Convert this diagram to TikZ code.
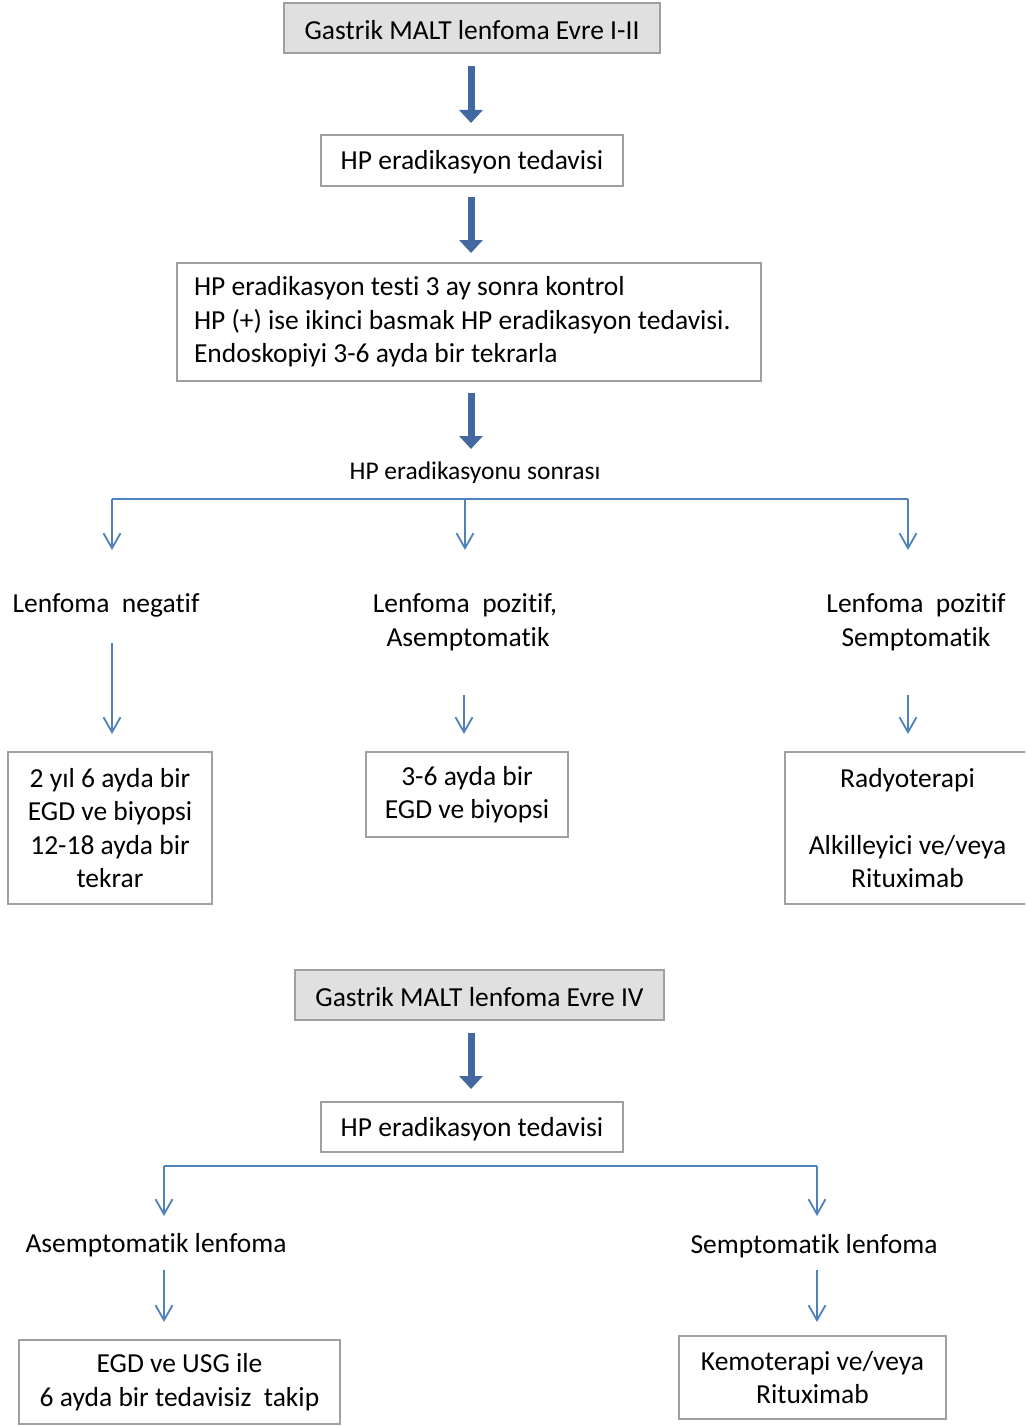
\documentclass[tikz,border=0pt]{standalone}
\usepackage{fontspec}
\setmainfont{Carlito}[Ligatures=NoCommon]
\usetikzlibrary{arrows.meta}
\definecolor{boxgray}{HTML}{A0A0A0}
\definecolor{fillgray}{HTML}{E0E0E0}
\definecolor{arrowblue}{HTML}{41689F}
\definecolor{lineblue}{HTML}{4F81BD}
\newcommand{\fsmain}{\fontsize{27.5}{33.5}\selectfont}
\newcommand{\fssmall}{\fontsize{25.5}{30}\selectfont}
\newcommand{\lowstrut}{\rule{0pt}{23pt}}
\begin{document}
\begin{tikzpicture}[x=1pt,y=-1pt,
  box/.style={draw=boxgray, line width=1.2pt, inner sep=0pt, font=\fsmain, align=center},
  graybox/.style={box, fill=fillgray},
  label/.style={inner sep=0pt, font=\fsmain, align=center},
  bigarrow/.style={draw=arrowblue, line width=7pt, -{Triangle[width=23pt,length=13pt]}},
  thinarrow/.style={draw=lineblue, line width=1.8pt, -{Straight Barb[width=17pt,length=15pt,line width=1.8pt]}},
  branch/.style={draw=lineblue, line width=1.8pt}]
\useasboundingbox (0,0) rectangle (1025,1426);
\clip (0,0) rectangle (1025,1426);

% upper part
\node[graybox, minimum width=376pt, minimum height=50pt] (b1) at (472,28) {\lowstrut Gastrik MALT lenfoma Evre I-II};
\node[box, minimum width=302pt, minimum height=51pt] (b2) at (472,160.5) {\lowstrut HP eradikasyon tedavisi};
\node[box, minimum width=584pt, minimum height=118pt, text width=550pt, align=flush left] (b3) at (469,322)
  {HP eradikasyon testi 3 ay sonra kontrol\\HP (+) ise ikinci basmak HP eradikasyon tedavisi.\\Endoskopiyi 3-6 ayda bir tekrarla};
\node[inner sep=0pt, font=\fssmall] (lbl) at (475,473) {HP eradikasyonu sonrası};

\coordinate (a1s) at (471,66);  \coordinate (a1e) at (471,123);
\coordinate (a2s) at (471,197); \coordinate (a2e) at (471,253);
\coordinate (a3s) at (471,393); \coordinate (a3e) at (471,449);
\draw[bigarrow] (a1s) -- (a1e);
\draw[bigarrow] (a2s) -- (a2e);
\draw[bigarrow] (a3s) -- (a3e);

\coordinate (h1) at (112,499); \coordinate (h2) at (465,499); \coordinate (h3) at (908,499);
\coordinate (h1e) at (112,550); \coordinate (h2e) at (465,550); \coordinate (h3e) at (908,550);
\draw[branch] (h1) -- (h3);
\draw[thinarrow] (h1) -- (h1e);
\draw[thinarrow] (h2) -- (h2e);
\draw[thinarrow] (h3) -- (h3e);

\node[label] (t1) at (106,605) {Lenfoma~~negatif};
\node[label] (t2) at (465,622) {Lenfoma~~pozitif,\\\hspace*{6pt}Asemptomatik};
\node[label] (t3) at (916,622) {Lenfoma~~pozitif\\Semptomatik};

\coordinate (k1s) at (112,643); \coordinate (k1e) at (112,734);
\coordinate (k2s) at (464,695); \coordinate (k2e) at (464,734);
\coordinate (k3s) at (908,695); \coordinate (k3e) at (908,734);
\draw[thinarrow] (k1s) -- (k1e);
\draw[thinarrow] (k2s) -- (k2e);
\draw[thinarrow] (k3s) -- (k3e);

\node[box, minimum width=204pt, minimum height=152pt] (l1) at (110,828)
  {2 yıl 6 ayda bir\\EGD ve biyopsi\\12-18 ayda bir\\tekrar};
\node[box, minimum width=202pt, minimum height=85pt] (m1) at (467,794.5)
  {3-6 ayda bir\\EGD ve biyopsi};
\node[box, minimum width=245pt, minimum height=152pt] (r1) at (907.5,828)
  {Radyoterapi\\[33.5pt]Alkilleyici ve/veya\\Rituximab};

% lower part
\node[graybox, minimum width=369pt, minimum height=50pt] (g2) at (479.5,995) {\lowstrut Gastrik MALT lenfoma Evre IV};
\node[box, minimum width=302pt, minimum height=50pt] (b5) at (472,1127) {\lowstrut HP eradikasyon tedavisi};
\coordinate (a4s) at (471,1033); \coordinate (a4e) at (471,1089);
\draw[bigarrow] (a4s) -- (a4e);

\coordinate (q1) at (164,1166); \coordinate (q2) at (817,1166);
\coordinate (q1e) at (164,1216); \coordinate (q2e) at (817,1216);
\draw[branch] (q1) -- (q2);
\draw[thinarrow] (q1) -- (q1e);
\draw[thinarrow] (q2) -- (q2e);

\node[label] (t4) at (156,1245) {Asemptomatik lenfoma};
\node[label] (t5) at (814,1246) {Semptomatik lenfoma};

\coordinate (p1s) at (164,1270); \coordinate (p1e) at (164,1322);
\coordinate (p2s) at (817,1270); \coordinate (p2e) at (817,1322);
\draw[thinarrow] (p1s) -- (p1e);
\draw[thinarrow] (p2s) -- (p2e);

\node[box, minimum width=321pt, minimum height=84pt] (l2) at (179.5,1382)
  {EGD ve USG ile\\6 ayda bir tedavisiz~~takip};
\node[box, minimum width=267pt, minimum height=83pt] (r2) at (812.5,1377.5)
  {Kemoterapi ve/veya\\Rituximab};
\end{tikzpicture}
\end{document}
